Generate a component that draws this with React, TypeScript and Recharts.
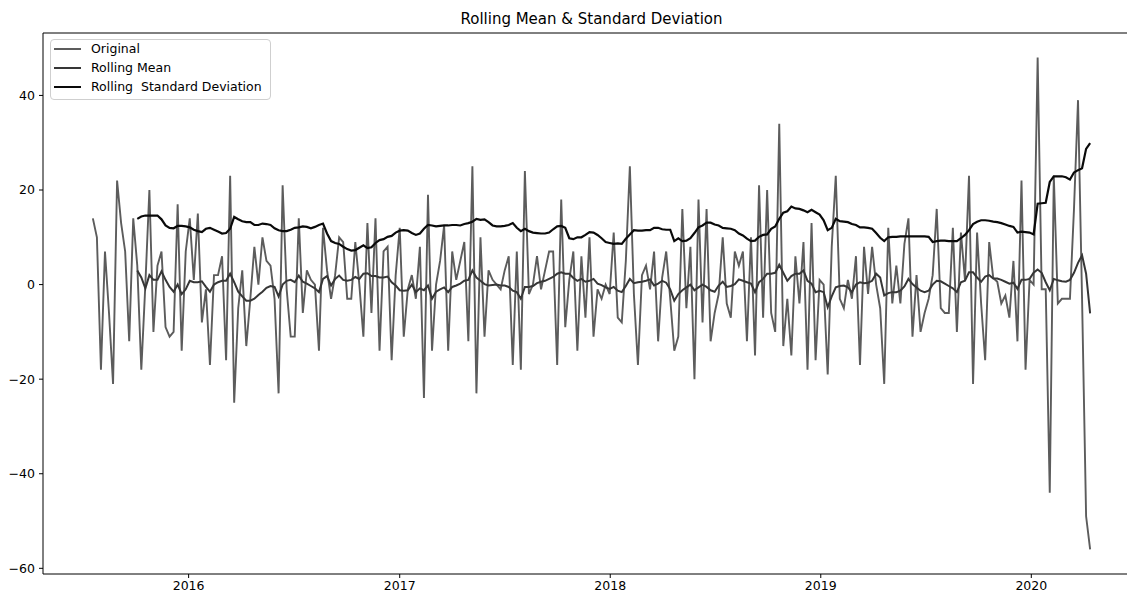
import React from 'react';
import { LineChart, Line, XAxis, YAxis, ReferenceLine } from 'recharts';

const TITLE = 'Rolling Mean & Standard Deviation';
const SERIES_NAMES = ['Original', 'Rolling Mean', 'Rolling  Standard Deviation'];
const START_DATE = Date.UTC(2015, 6, 19);
const WEEK_MS = 7 * 24 * 3600 * 1000;
const YEAR_TICKS = [2016, 2017, 2018, 2019, 2020];
const Y_TICKS = [-60, -40, -20, 0, 20, 40];

const original = [
  14, 10, -18, 7, -6, -21, 22, 13, 7, -12,
  14, 4, -18, 0, 20, -10, 4, 7, -9, -11,
  -10, 17, -14, 7, 14, 1, 15, -8, -1, -17,
  2, 2, 6, -16, 23, -25, -5, 3, -13, -3,
  8, 0, 10, 5, 4, -3, -23, 21, -1, -11,
  -11, 14, -6, 3, 1, 0, -14, 12, 3, -3,
  2, 10, 9, -3, -3, 9, 0, -11, 13, -6,
  14, -14, 7, 8, -16, 2, 12, -11, -1, 2,
  -3, 8, -24, 19, -14, 0, 5, 12.5, -14, 7,
  1, 5, 9, -12, 25, -23, 10, -11, 3, 1,
  0, -1, 3, 6, -17, 7, -18, 24, -2, 0,
  6, -1, 3, 7, 7, -17, 18, -9, 1, 7,
  -14, 6, -7, 10, -11, -1, -3, 0, -2, 11,
  -7, -8, 5, 25, -2, -17, 2, 4, -1, 7,
  -12, 1.5, 7, -3, -14, -11, 16, -5, 8, -20,
  18, -8, 16, -12, -6, -2, 10, -4, -7, 7,
  4, 7, -12, 10, -15, 21, -7, 20, -6, -10,
  34, -13, -3, -15, 6, -4, 9, -18, 13, -16,
  1, 0, -19, 8, 23, -3, -5, 1, -3, 6,
  -17, 8, -2, 8, 0, -5, -21, 12, -4, 4,
  -4, 8.6, 14, -11, 2, -10, -6, -3, 2, 16,
  -5, -6, -6, 12, -10, 11, 1, 23, -21, 11,
  -4, -16, 9, 1.4, 0.6, -4, -2.3, -7, 5, -12,
  22, -18, 1, 0, 48, -1, -1, -44, 23, -4,
  -3, -3, -3, 16, 39, -3, -49, -56,
];

const rollingMean: (number | null)[] = [
  null, null, null, null, null, null, null, null, null, null,
  null, 3, 1.5, -0.8, 2, 1, 1, 2.8, 1, -0.5,
  -1.5, 0, -2, -1, 0.8, 0.5, 0.5, 0.7, -0.5, -1.5,
  0, 0.5, 0.8, 0.8, 2.3, 0.5, -1.5, -2.5, -3.4, -3.4,
  -3, -2.2, -1.5, -0.7, -0.3, -0.5, -2.5, 0, 0.8, 1,
  0.5, 1.9, 0.6, 0.2, -0.3, -0.8, -1.6, 1.2, 1.8, -0.2,
  1.2, 1.9, 1, 0.8, 1, 1.6, 1.2, 2.3, 2.4, 1.8,
  1.8, 1.5, 1.5, 1.7, 0.5, -0.2, -1.2, -1.3, -1.2, 0,
  -1.6, -0.8, -1.2, -0.2, -3, -1.5, -1, -0.6, -1.6, -0.5,
  -0.2, 0.2, 0.8, 1, 3, 1.5, 0.8, 0.1, -0.2, -0.1,
  0, -0.2, -0.2, -0.5, -1.3, -1.6, -3, -0.5, -0.5, -0.3,
  0.3, 0.6, 0.8, 1.2, 1.6, 2.3, 2.6, 2.3, 2.3, 1.4,
  0.8, 1.2, 0.6, 0.8, 1.2, 0.2, -0.1, -0.6, -0.9, -0.5,
  -1.3, -1.6, -0.3, 1.2, 0.3, 0.5, 0.6, 0.8, 1.1, -0.2,
  0.2, 0.8, 0.4, -1, -3.4, -2, -1.2, -0.6, 0, -1.2,
  -0.6, 0, -0.5, -1.2, -1.5, -0.2, 0.6, -0.5, -0.3, 0.1,
  1.1, 0.8, 0.5, 0.2, -1.6, 0.5, 1.2, 2.3, 2.3, 2.5,
  4.2, 2.5, 0.8, 1.8, 2.3, 2.3, 3, 0.8, 0.2, -1.6,
  -1.3, -1.6, -4.8, -2.5, -0.6, -0.3, -0.2, -0.6, -1.6, 0,
  0.5, 0.3, 0.4, 0.8, 2.3, 1.5, -2.3, -1.8, -1.6, -1.6,
  -1.3, -0.4, 1.2, 0.1, -0.6, -1.3, -1.6, -1.3, 0, 0.8,
  0.7, 0.2, -0.3, -0.8, -1.6, 0.5, 0.8, 2.6, 2.6, 1.5,
  0.6, 1.7, 2, 1.3, 1.3, 1, 0.6, 0.2, 0.4, -0.9,
  1, 1, 1.2, 2.5, 3.2, 2.5, 0.5, -1.2, 1.2, 0.9,
  0.7, 0.6, 1, 2.5, 4.6, 6.2, 2.3, -6.1,
];

const rollingStd: (number | null)[] = [
  null, null, null, null, null, null, null, null, null, null,
  null, 13.9, 14.4, 14.6, 14.6, 14.6, 14.6, 13.8, 12.5, 12.0,
  11.9, 12.4, 12.4, 12.3, 12.1, 11.6, 11.3, 11.1, 11.8, 12.0,
  11.6, 11.2, 10.8, 10.9, 11.8, 14.3, 13.8, 13.4, 13.2, 13.2,
  12.6, 12.6, 12.9, 12.8, 12.6, 11.9, 11.5, 11.3, 11.3, 11.6,
  12.0, 12.1, 12.3, 12.2, 11.9, 12.2, 12.6, 12.9, 10.8, 9.2,
  8.8, 8.6, 8.0, 7.5, 7.2, 7.3, 7.8, 8.3, 7.7, 7.9,
  8.8, 9.4, 9.6, 10.1, 10.3, 11, 11.4, 11.5, 11.4, 10.9,
  10.5, 10.8, 11.8, 12.6, 12.5, 12.3, 12.4, 12.5, 12.5, 12.6,
  12.6, 12.5, 12.8, 13.0, 13.3, 13.9, 13.7, 13.8, 13.2, 12.5,
  12.3, 12.3, 12.4, 12.6, 13.0, 12.0, 11.3, 11.8, 11.3, 11.0,
  10.9, 10.8, 10.8, 11.0, 11.7, 12.3, 12.4, 12.0, 9.8, 9.6,
  10.0, 10.0, 10.5, 11.1, 11.0, 10.5, 9.8, 9.0, 8.8, 8.6,
  8.7, 8.6, 9.7, 10.6, 11.5, 11.4, 11.4, 11.5, 11.5, 12.0,
  12.0, 11.7, 11.6, 11.6, 9.2, 9.8, 9.2, 9.3, 9.8, 10.9,
  12.1, 12.5, 13.1, 13.1, 12.7, 12.5, 12.0, 11.9, 11.8, 11.5,
  10.8, 10.4, 9.7, 9.2, 9.3, 10.1, 10.5, 10.6, 11.8, 12.3,
  13.9, 15.2, 15.5, 16.5, 16.1, 16.0, 15.7, 15.3, 15.8, 15.3,
  14.8, 13.6, 11.5, 12.0, 13.9, 13.4, 13.3, 13.2, 12.8, 12.6,
  12.1, 12.1, 12.0, 11.8, 10.9, 9.9, 9.2, 10.0, 10.1, 10.1,
  10.2, 10.2, 10.2, 10.2, 10.2, 10.2, 10.2, 10.1, 9.0, 9.2,
  9.3, 9.3, 9.2, 9.2, 9.2, 9.8, 10.5, 11.5, 12.8, 13.3,
  13.6, 13.6, 13.5, 13.3, 13.2, 13.0, 12.7, 12.4, 12.2, 11.0,
  11.2, 11.1, 11.0, 10.6, 17.1, 17.2, 17.3, 21.7, 22.9, 22.9,
  22.9, 22.7, 22.2, 23.7, 24.2, 24.6, 28.7, 29.9,
];

const COLORS = ['#5c5c5c', '#363636', '#0a0a0a'];
const WIDTHS = [1.9, 2, 2.2];
const FONT = '"DejaVu Sans", Verdana, sans-serif';

const rows = original.map((v, i) => ({
  t: START_DATE + i * WEEK_MS,
  orig: v,
  mean: rollingMean[i],
  std: rollingStd[i],
}));

const tMin = rows[0].t;
const tMax = rows[rows.length - 1].t;
const xPad = (tMax - tMin) * 0.05;
const xDomain: [number, number] = [tMin - xPad, tMax + xPad];
const vMin = Math.min(...original);
const vMax = Math.max(...original);
const yPad = (vMax - vMin) * 0.05;
const yDomain: [number, number] = [vMin - yPad, vMax + yPad];
const xTicks = YEAR_TICKS.map((y) => Date.UTC(y, 0, 1));

const fmtY = (v: number) => (v < 0 ? '\u2212' + Math.abs(v) : String(v));
const fmtX = (v: number) => String(new Date(v).getUTCFullYear());

const tickStyle = { fill: '#000', fontSize: 12.5, fontFamily: FONT };

export default function App() {
  return (
    <div
      style={{
        position: 'fixed',
        left: 0,
        top: 0,
        width: 1127,
        height: 595,
        overflow: 'hidden',
        background: '#fff',
        fontFamily: FONT,
      }}
    >
      <div style={{ position: 'absolute', left: 0, top: 0 }}>
        <LineChart
          width={1160}
          height={595}
          data={rows}
          margin={{ top: 33, right: 20, bottom: 0, left: 0 }}
        >
          <XAxis
            type="number"
            dataKey="t"
            domain={xDomain}
            ticks={xTicks}
            tickFormatter={fmtX}
            allowDataOverflow
            height={21}
            tickSize={4}
            tickMargin={3}
            axisLine={{ stroke: '#000', strokeWidth: 1 }}
            tickLine={{ stroke: '#000', strokeWidth: 1 }}
            tick={tickStyle}
          />
          <YAxis
            type="number"
            domain={yDomain}
            ticks={Y_TICKS}
            tickFormatter={fmtY}
            allowDataOverflow
            width={43}
            tickSize={4}
            tickMargin={4}
            axisLine={{ stroke: '#000', strokeWidth: 1 }}
            tickLine={{ stroke: '#000', strokeWidth: 1 }}
            tick={tickStyle}
          />
          <ReferenceLine y={yDomain[1]} stroke="#000" strokeWidth={1} ifOverflow="visible" />
          <ReferenceLine x={xDomain[1]} stroke="#000" strokeWidth={1} ifOverflow="visible" />
          <Line
            type="linear"
            dataKey="orig"
            name={SERIES_NAMES[0]}
            stroke={COLORS[0]}
            strokeWidth={WIDTHS[0]}
            dot={false}
            isAnimationActive={false}
          />
          <Line
            type="linear"
            dataKey="mean"
            name={SERIES_NAMES[1]}
            stroke={COLORS[1]}
            strokeWidth={WIDTHS[1]}
            dot={false}
            isAnimationActive={false}
          />
          <Line
            type="linear"
            dataKey="std"
            name={SERIES_NAMES[2]}
            stroke={COLORS[2]}
            strokeWidth={WIDTHS[2]}
            dot={false}
            isAnimationActive={false}
          />
        </LineChart>
      </div>
      <div
        style={{
          position: 'absolute',
          left: 43,
          top: 10,
          width: 1097,
          textAlign: 'center',
          fontSize: 15,
          lineHeight: '18px',
          color: '#000',
          whiteSpace: 'pre',
        }}
      >
        {TITLE}
      </div>
      <div
        style={{
          position: 'absolute',
          left: 50,
          top: 39,
          width: 221,
          height: 61,
          boxSizing: 'border-box',
          border: '1px solid #cfcfcf',
          borderRadius: 4,
          background: 'rgba(255,255,255,0.8)',
        }}
      >
        {SERIES_NAMES.map((name, k) => (
          <React.Fragment key={name}>
            <div
              style={{
                position: 'absolute',
                left: 3,
                top: 9 + k * 19 - WIDTHS[k] / 2,
                width: 27,
                height: WIDTHS[k],
                background: COLORS[k],
              }}
            />
            <div
              style={{
                position: 'absolute',
                left: 40,
                top: 1 + k * 19,
                fontSize: 12.5,
                lineHeight: '16px',
                color: '#000',
                whiteSpace: 'pre',
              }}
            >
              {name}
            </div>
          </React.Fragment>
        ))}
      </div>
    </div>
  );
}
